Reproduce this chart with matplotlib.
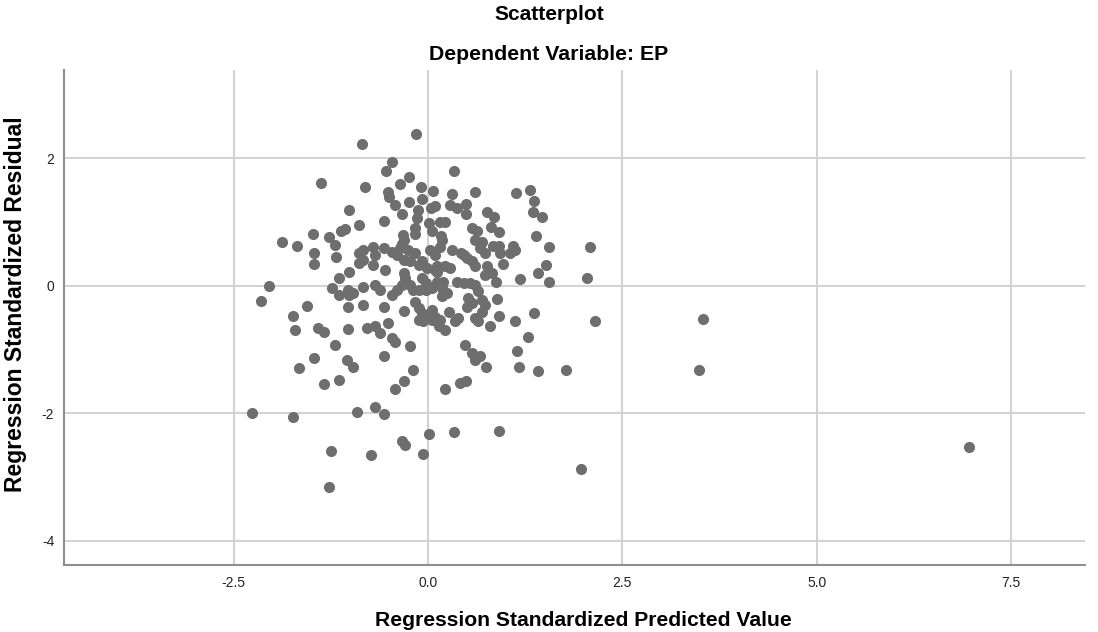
import matplotlib
matplotlib.use('Agg')
import matplotlib.pyplot as plt
import numpy as np

plt.rcParams['font.family'] = ['Liberation Sans', 'DejaVu Sans']

# --- datos (predicho estandarizado, residuo estandarizado) ---
pred_std = [
    6.96, 3.54, 3.49, 1.97, 1.77, 2.15, 2.09, 2.05, 0.91,
    1.13, 1.31, 1.37, 1.35, 1.47, 0.76, 0.85, 0.81, 0.92, 1.39, 0.69, 0.84, 0.91, 1.10, 1.56,
    0.74, 0.93, 1.06, 1.12, 0.76, 0.74, 0.82, 0.96, 0.87, 1.19, 1.42, 1.52, 1.56, 0.89, 0.74,
    0.69, 0.92, 0.80, 1.12, 1.36, 1.29, 1.14, 0.67, 0.75, 1.17, 1.42,
    -2.26, -1.73, -1.33, -1.14, -0.91, -1.25, -1.27,
    -0.31, -0.42, 0.22, 0.41, 0.49, -0.68, -0.56, 0.02, 0.33, -0.33, -0.30, -0.73, -0.06,
    -0.85, -1.37, -1.02, -1.88, -1.68, -1.48, -1.27, -1.12, -1.06, -1.19, -0.88,
    -0.15, -0.46, -0.54, 0.34, -0.81, -0.36, -0.24, -0.09, -0.51, -0.50, 0.06, 0.31, 0.60,
    -0.08, -0.24, -0.42, 0.09, 0.04, 0.28, 0.49, 0.37, 0.49, -0.13, -0.33, -0.14, 0.22, 0.16,
    -0.56, 0.01, 0.05, -0.16, -0.16, -0.32, 0.17, 0.57, 0.63, 0.61, -0.33, -0.70, -0.57, -0.36,
    -1.46, -1.46, -1.18, -0.89, -0.89, -1.01, -1.14, -1.23, -1.14, -1.03, -0.96, -1.02, -2.04,
    -2.15, -1.56, -1.03, -1.73, -1.71, -1.42, -1.33, -1.03, -1.19, -1.47, -1.66, -1.04, -0.96,
    -0.83, -0.68, -0.70, -0.46, -0.40, -0.31, -0.25, -0.16, -0.31, -0.23, -0.12, -0.08, 0.03,
    0.09, 0.16, 0.18, 0.31, 0.42, 0.50, 0.57, 0.67, 0.12, 0.09, 0.22, 0.29, -0.01, -0.55,
    -0.83, -0.68, -0.61, -0.46, -0.40, -0.33, -0.29, -0.31, -0.23, -0.19, -0.08, -0.03, -0.12,
    -0.03, 0.05, 0.12, 0.20, 0.18, 0.24, 0.18, 0.37, 0.46, 0.54, 0.61, 0.12, 0.52, 0.57, 0.50,
    0.65, 0.69, -0.83, -0.57, -0.31, -0.16, -0.12, -0.08, 0.01, 0.05, -0.12, -0.06, 0.05, 0.09,
    0.27, 0.16, 0.39, 0.35, 0.61, 0.65, 0.14, 0.22, -0.68, -0.78, -0.51,
    -0.61, -0.46, -0.42, -0.23, -0.57, -0.19, 0.48, 0.57, 0.61, -0.83, 0.46, 0.61,
]
resid_std = [
    -2.53, -0.52, -1.32, -2.88, -1.32, -0.55, 0.60, 0.12, -2.28,
    1.45, 1.50, 1.33, 1.16, 1.08, 1.16, 1.08, 0.92, 0.84, 0.78, 0.69, 0.62, 0.62, 0.62, 0.61,
    0.51, 0.51, 0.51, 0.56, 0.30, 0.17, 0.19, 0.34, 0.05, 0.11, 0.19, 0.32, 0.06, -0.21, -0.30,
    -0.41, -0.47, -0.64, -0.55, -0.43, -0.81, -1.02, -1.11, -1.27, -1.28, -1.34,
    -1.99, -2.06, -1.54, -1.48, -1.98, -2.59, -3.16,
    -1.50, -1.62, -1.62, -1.52, -1.49, -1.90, -2.02, -2.33, -2.30, -2.43, -2.50, -2.65, -2.64,
    2.22, 1.61, 1.19, 0.69, 0.62, 0.81, 0.76, 0.86, 0.88, 0.64, 0.95,
    2.37, 1.93, 1.80, 1.80, 1.55, 1.59, 1.71, 1.54, 1.47, 1.39, 1.48, 1.44, 1.46,
    1.36, 1.31, 1.26, 1.25, 1.21, 1.26, 1.28, 1.21, 1.12, 1.18, 1.13, 1.06, 1.00, 1.00,
    1.02, 0.98, 0.86, 0.90, 0.81, 0.79, 0.78, 0.90, 0.86, 0.72, 0.66, 0.61, 0.59, 0.59,
    0.51, 0.34, 0.45, 0.51, 0.35, 0.22, 0.12, -0.03, -0.15, -0.07, -0.11, -0.15, 0.00,
    -0.24, -0.32, -0.33, -0.47, -0.69, -0.67, -0.72, -0.68, -0.93, -1.14, -1.29, -1.16, -1.27,
    0.56, 0.48, 0.32, 0.53, 0.48, 0.72, 0.56, 0.51, 0.40, 0.38, 0.32, 0.38, 0.56,
    0.48, 0.61, 0.72, 0.56, 0.51, 0.43, 0.38, 0.59, 0.30, 0.25, 0.30, 0.27, 0.27, 0.25,
    -0.02, 0.01, -0.07, -0.15, -0.07, 0.01, 0.12, 0.19, 0.01, -0.07, 0.12, 0.04, -0.07,
    -0.07, -0.04, 0.06, 0.06, -0.04, -0.12, -0.17, 0.06, 0.04, 0.04, 0.01, 0.22, -0.20, -0.28, -0.33,
    -0.09, -0.22, -0.30, -0.33, -0.40, -0.25, -0.35, -0.43, -0.46, -0.38, -0.54, -0.56, -0.54, -0.49,
    -0.41, -0.54, -0.51, -0.56, -0.51, -0.56, -0.64, -0.69, -0.64, -0.67, -0.59,
    -0.75, -0.82, -0.88, -0.95, -1.11, -1.32, -0.93, -1.06, -1.16, 0.40, 0.48, 0.30,
]

XTICKS = [-2.5, 0.0, 2.5, 5.0, 7.5]
YTICKS = [-4, -2, 0, 2]

fig = plt.figure(figsize=(10.98, 6.32), dpi=100)
ax = fig.add_axes([64/1098, 67/632, 1021/1098, 495/632])

ax.scatter(pred_std, resid_std, s=64, color='#6e6e6e', linewidths=0, zorder=3)

ax.set_xlim(-4.68, 8.45)
ax.set_ylim(-4.38, 3.38)
ax.set_xticks(XTICKS)
ax.set_xticklabels([f'{t:.1f}' for t in XTICKS])
ax.set_yticks(YTICKS)
ax.set_yticklabels([str(t) for t in YTICKS])
ax.grid(True, color='#cfcfcf', linewidth=1.3, zorder=0)
ax.tick_params(length=0, labelsize=10, colors='#222222')
ax.tick_params(axis='x', pad=8)
ax.tick_params(axis='y', pad=7)

for lado in ['top', 'right']:
    ax.spines[lado].set_visible(False)
for lado in ['left', 'bottom']:
    ax.spines[lado].set_color('#8f8f8f')
    ax.spines[lado].set_linewidth(1.5)

fig.text(0.5, 1 - 14/632, 'Scatterplot', ha='center', va='center',
         fontsize=15, fontweight='bold')
fig.text(0.5, 1 - 54/632, 'Dependent Variable: EP', ha='center', va='center',
         fontsize=15.3, fontweight='bold')
fig.text(583/1098, 1 - 621/632, 'Regression Standardized Predicted Value',
         ha='center', va='center', fontsize=15.2, fontweight='bold')
fig.text(16/1098, 1 - 304/632, 'Regression Standardized Residual', rotation=90,
         ha='center', va='center', fontsize=16.5, fontweight='bold')

fig.savefig('out.png', dpi=100)
